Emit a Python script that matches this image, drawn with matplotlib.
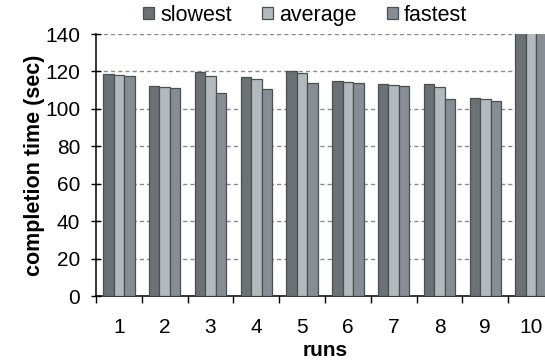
import matplotlib
matplotlib.use("Agg")
import matplotlib.pyplot as plt
import numpy as np

runs = ["1", "2", "3", "4", "5", "6", "7", "8", "9", "10"]
slowest = [118.6, 112.4, 119.7, 117.2, 120.3, 114.7, 113.5, 113.1, 106.0, 150]
average = [118.0, 111.7, 117.6, 116.2, 119.0, 114.6, 112.8, 111.5, 105.5, 150]
fastest = [117.7, 111.0, 108.7, 110.6, 113.7, 113.7, 112.2, 105.1, 104.2, 150]
series_names = ["slowest", "average", "fastest"]
colors = ["#6b7275", "#b4b9be", "#868d94"]
edge = "#4a5052"

plt.rcParams['font.family'] = ['Liberation Sans', 'DejaVu Sans']

fig = plt.figure(figsize=(5.45, 3.6), dpi=100)
ax = fig.add_axes([96/545, 64/360, 458/545, 262/360])

x = np.arange(len(runs))
w = 0.228
for i, (vals, c, name) in enumerate(zip([slowest, average, fastest], colors, series_names)):
    ax.bar(x + (i - 1) * w, vals, width=w, color=c, edgecolor=edge, linewidth=0.9,
           label=name, zorder=3)

ax.set_xlim(-0.5, len(runs) - 0.5)
ax.set_ylim(0, 140)
ax.set_yticks(np.arange(0, 141, 20))
ax.yaxis.grid(True, linestyle=(0, (3, 2.2)), color="#8a8a8a", linewidth=1.0, zorder=0)
ax.set_axisbelow(True)

ax.set_xticks(x)
ax.set_xticklabels(runs, fontsize=15)
ax.set_xticks(np.arange(-0.5, len(runs)), minor=True)
ax.tick_params(axis='x', which='major', length=0, pad=16)
ax.tick_params(axis='x', which='minor', length=5, width=1, direction='out')
ax.tick_params(axis='y', labelsize=15, direction='inout', length=7, width=1, pad=8)

for s in ['top', 'right']:
    ax.spines[s].set_visible(False)
for s in ['left', 'bottom']:
    ax.spines[s].set_linewidth(1.1)
    ax.spines[s].set_color('black')

ax.set_ylabel("completion time (sec)", fontsize=15.5, fontweight='bold', labelpad=0)
ax.set_xlabel("runs", fontsize=15, fontweight='bold', labelpad=3)

fig.legend(loc='upper center', bbox_to_anchor=(0.56, 1.04), ncol=3, frameon=False,
           fontsize=15.5, handlelength=0.5, handleheight=0.5, handletextpad=0.3,
           columnspacing=1.4)

fig.savefig("out.png", dpi=100)
